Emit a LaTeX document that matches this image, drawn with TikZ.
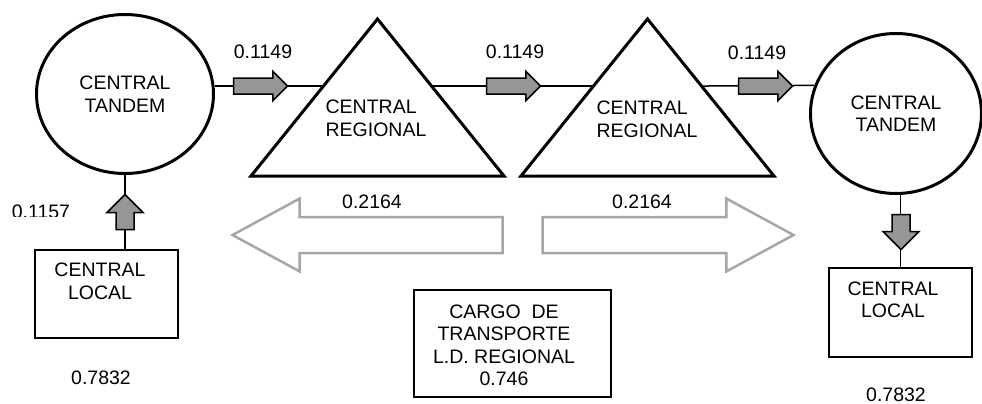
\documentclass[tikz,border=0pt]{standalone}
\usepackage{fontspec}
\setmainfont{Liberation Sans}
\usetikzlibrary{shapes.geometric,shapes.arrows,calc}
\definecolor{flowgray}{RGB}{150,150,150}
\definecolor{chargegray}{RGB}{166,166,166}
\tikzset{
  tandem/.style={draw,ellipse,line width=3pt,inner sep=0pt,align=center},
  plainbox/.style={draw,rectangle,line width=2pt,inner sep=0pt},
  regiontri/.style={draw,line width=3pt,line join=miter},
  wire/.style={line width=1.5pt},
  flowarrow/.style={single arrow,draw,fill=flowgray,line width=1.5pt,inner xsep=0pt,inner ysep=7.25pt,
    minimum height=54pt,single arrow head extend=6.75pt,single arrow tip angle=90,anchor=tail},
  chargearrow/.style={single arrow,draw=chargegray,line width=2.5pt,inner xsep=0pt,inner ysep=16.75pt,
    single arrow head extend=18.5pt,single arrow tip angle=57,anchor=tail},
  txt/.style={align=center,inner sep=0pt}
}
\begin{document}
\begin{tikzpicture}[x=1pt,y=-1pt,font=\fontsize{19.5}{22.5}\selectfont]
        \useasboundingbox (0,0) rectangle (982,404);
        % tandem centrals
        \node[tandem,minimum width=177pt,minimum height=159pt] (tandemL) at (125,94) {CENTRAL\\TANDEM};
        \node[tandem,minimum width=171pt,minimum height=160pt] (tandemR) at (896,113.5) {CENTRAL\\TANDEM};
        % regional centrals
        \coordinate (r1l) at (251,176);
        \coordinate (r1r) at (504,176);
        \coordinate (r1t) at (377.5,19);
        \coordinate (r2l) at (521,176);
        \coordinate (r2r) at (774,176);
        \coordinate (r2t) at (647.5,19);
        \draw[regiontri] (r1l) -- (r1t) -- (r1r) -- cycle;
        \draw[regiontri] (r2l) -- (r2t) -- (r2r) -- cycle;
        \node[txt,align=left] (reg1) at (376,118.5) {CENTRAL\\REGIONAL};
        \node[txt,align=left] (reg2) at (647,119.5) {CENTRAL\\REGIONAL};
        \coordinate (e1) at ($(r1l)!0.573!(r1t)$);
        \coordinate (e2) at ($(r1r)!0.573!(r1t)$);
        \coordinate (e3) at ($(r2l)!0.573!(r2t)$);
        \coordinate (e4) at ($(r2r)!0.573!(r2t)$);
        % local centrals
        \node[plainbox,minimum width=143pt,minimum height=88pt] (localL) at (106.5,294) {};
        \node[txt] (localLtxt) at (100,281.5) {CENTRAL\\LOCAL};
        \node[plainbox,minimum width=143pt,minimum height=89pt] (localR) at (900.5,312.5) {};
        \node[txt] (localRtxt) at (893,300) {CENTRAL\\LOCAL};
        % transport charge
        \node[plainbox,minimum width=197pt,minimum height=107pt] (cargo) at (512.5,343.5) {};
        \node[txt] (cargotxt) at (504,345.5) {CARGO~~DE\\TRANSPORTE\\L.D. REGIONAL\\0.746};
        % links
        \draw[wire] (tandemL.east |- e1) -- (e1);
        \draw[wire] (e2) -- (e3);
        \draw[wire] (e4) -- (tandemR.161);
        \draw[wire] (tandemL.south) -- (tandemL.south |- localL.north);
        \draw[wire] (localR.north |- tandemR.south) -- (localR.north);
        % flow arrows
        \node[flowarrow] (a1) at (232.75,86) {};
        \node[flowarrow] (a2) at (485.75,86) {};
        \node[flowarrow] (a3) at (737.75,86) {};
        \node[flowarrow,rotate=90,minimum height=35pt,inner ysep=8.25pt,single arrow head extend=9pt] (aup) at (125,230.25) {};
        \node[flowarrow,rotate=-90,minimum height=35pt,inner ysep=8.25pt,single arrow head extend=9pt] (adown) at (901,213.75) {};
        \node[chargearrow,rotate=180,minimum height=270pt] (cl) at (503.75,235) {};
        \node[chargearrow,minimum height=251pt] (cr) at (541.25,235) {};
        % values
        \node[txt] (f1) at (263,52) {0.1149};
        \node[txt] (f2) at (515,52) {0.1149};
        \node[txt] (f3) at (757,53) {0.1149};
        \node[txt] (c1) at (372,202) {0.2164};
        \node[txt] (c2) at (642,202) {0.2164};
        \node[txt] (v1) at (101,377.5) {0.7832};
        \node[txt] (v2) at (896,395) {0.7832};
        \begin{scope}
          \clip (0,0) rectangle (110,216.5);
          \node[txt] (u1) at (41,212) {0.1157};
        \end{scope}
    \end{tikzpicture}
\end{document}
